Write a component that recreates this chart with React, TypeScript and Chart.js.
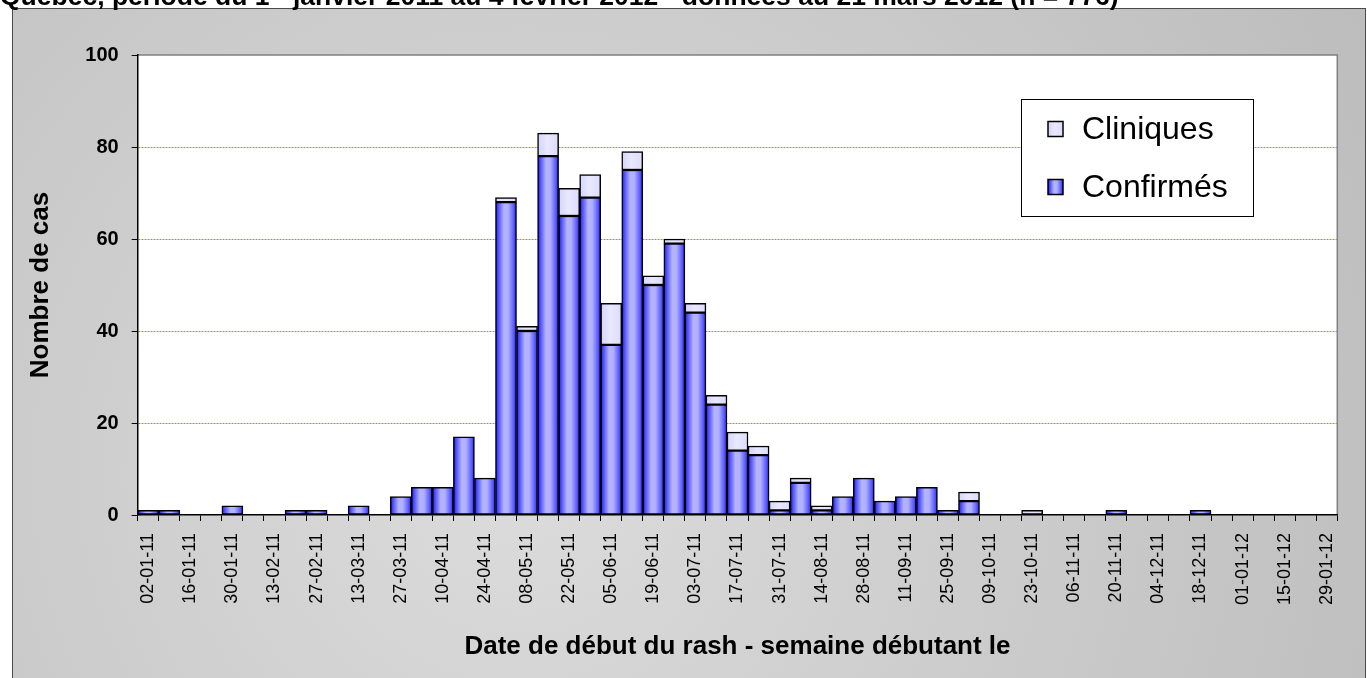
import React, { useEffect, useRef } from 'react';
import { Chart, registerables } from 'chart.js';

Chart.register(...registerables);

const WEEKS = [
  '02-01-11', '09-01-11', '16-01-11', '23-01-11', '30-01-11', '06-02-11', '13-02-11', '20-02-11',
  '27-02-11', '06-03-11', '13-03-11', '20-03-11', '27-03-11', '03-04-11', '10-04-11', '17-04-11',
  '24-04-11', '01-05-11', '08-05-11', '15-05-11', '22-05-11', '29-05-11', '05-06-11', '12-06-11',
  '19-06-11', '26-06-11', '03-07-11', '10-07-11', '17-07-11', '24-07-11', '31-07-11', '07-08-11',
  '14-08-11', '21-08-11', '28-08-11', '04-09-11', '11-09-11', '18-09-11', '25-09-11', '02-10-11',
  '09-10-11', '16-10-11', '23-10-11', '30-10-11', '06-11-11', '13-11-11', '20-11-11', '27-11-11',
  '04-12-11', '11-12-11', '18-12-11', '25-12-11', '01-01-12', '08-01-12', '15-01-12', '22-01-12',
  '29-01-12',
];

const CONFIRMES = [
  1, 1, 0, 0, 2, 0, 0, 1,
  1, 0, 2, 0, 4, 6, 6, 17,
  8, 68, 40, 78, 65, 69, 37, 75,
  50, 59, 44, 24, 14, 13, 1, 7,
  1, 4, 8, 3, 4, 6, 1, 3,
  0, 0, 0, 0, 0, 0, 1, 0,
  0, 0, 1, 0, 0, 0, 0, 0,
  0,
];

const CLINIQUES = [
  0, 0, 0, 0, 0, 0, 0, 0,
  0, 0, 0, 0, 0, 0, 0, 0,
  0, 1, 1, 5, 6, 5, 9, 4,
  2, 1, 2, 2, 4, 2, 2, 1,
  1, 0, 0, 0, 0, 0, 0, 2,
  0, 0, 1, 0, 0, 0, 0, 0,
  0, 0, 0, 0, 0, 0, 0, 0,
  0,
];

const Y_MIN = 0;
const Y_MAX = 100;
const Y_STEP = 20;

const SERIES_CONFIRMES = 'Confirmés';
const SERIES_CLINIQUES = 'Cliniques';
const Y_TITLE = 'Nombre de cas';
const X_TITLE = 'Date de début du rash - semaine débutant le';
const TITLE_START = 'Québec, période du 1';
const TITLE_SUP = 'er';
const TITLE_END = ' janvier 2011 au 4 février 2012 - données au 21 mars 2012 (n = 776)';

const FONT = "'Liberation Sans', Arial, Helvetica, sans-serif";
const W = 1367;
const H = 678;

function blueGradient(ctx: CanvasRenderingContext2D, x0: number, x1: number) {
  const g = ctx.createLinearGradient(x0, 0, x1, 0);
  g.addColorStop(0, '#1010ff');
  g.addColorStop(0.12, '#4a4aff');
  g.addColorStop(0.4, '#b4b4ff');
  g.addColorStop(0.6, '#b0b0ff');
  g.addColorStop(0.85, '#6060ff');
  g.addColorStop(1, '#2020ff');
  return g;
}

function lightGradient(ctx: CanvasRenderingContext2D, x0: number, x1: number) {
  const g = ctx.createLinearGradient(x0, 0, x1, 0);
  g.addColorStop(0, '#d4d4fa');
  g.addColorStop(0.45, '#e8e8ff');
  g.addColorStop(1, '#dcdcfc');
  return g;
}

function barFill(kind: 'blue' | 'light') {
  return (c: any) => {
    const chart = c.chart;
    const fallback = kind === 'blue' ? '#8080ff' : '#e0e0ff';
    if (!chart.chartArea || c.type !== 'data') return fallback;
    const xs = chart.scales.x;
    const cx = xs.getPixelForValue(c.dataIndex);
    const w = xs.width / WEEKS.length;
    return kind === 'blue'
      ? blueGradient(chart.ctx, cx - w / 2, cx + w / 2)
      : lightGradient(chart.ctx, cx - w / 2, cx + w / 2);
  };
}

const backgroundPlugin = {
  id: 'panelBackground',
  beforeDraw(chart: any) {
    const ctx = chart.ctx as CanvasRenderingContext2D;
    const a = chart.chartArea;
    ctx.save();
    ctx.fillStyle = '#ffffff';
    ctx.fillRect(0, 0, W, H);
    const rg = ctx.createRadialGradient(520, 470, 0, 520, 470, 950);
    rg.addColorStop(0, '#dcdcdc');
    rg.addColorStop(1, '#bdbdbd');
    ctx.fillStyle = rg;
    ctx.fillRect(12.5, 8.5, 1353, 700);
    ctx.strokeStyle = '#4a4a4a';
    ctx.lineWidth = 1;
    ctx.strokeRect(12.5, 8.5, 1353, 700);

    // title (partly clipped at top)
    ctx.fillStyle = '#000';
    ctx.textBaseline = 'alphabetic';
    ctx.textAlign = 'left';
    const big = `bold 26.5px ${FONT}`;
    ctx.font = big;
    let x = 0;
    const by = 5;
    ctx.fillText(TITLE_START, x, by);
    x += ctx.measureText(TITLE_START).width;
    ctx.font = `bold 17px ${FONT}`;
    ctx.fillText(TITLE_SUP, x, by - 10);
    x += ctx.measureText(TITLE_SUP).width;
    ctx.font = big;
    ctx.fillText(TITLE_END, x, by);

    // plot area
    ctx.fillStyle = '#ffffff';
    ctx.fillRect(a.left, a.top, a.right - a.left, a.bottom - a.top);
    ctx.strokeStyle = '#808080';
    ctx.lineWidth = 1.5;
    ctx.beginPath();
    ctx.moveTo(a.left, a.top);
    ctx.lineTo(a.right, a.top);
    ctx.lineTo(a.right, a.bottom);
    ctx.stroke();
    ctx.restore();
  },
  afterDraw(chart: any) {
    const ctx = chart.ctx as CanvasRenderingContext2D;
    ctx.save();
    const lx = 1021.5, ly = 99.5, lw = 232, lh = 117;
    ctx.fillStyle = '#ffffff';
    ctx.fillRect(lx, ly, lw, lh);
    ctx.strokeStyle = '#000';
    ctx.lineWidth = 1;
    ctx.strokeRect(lx, ly, lw, lh);
    const items = [
      { name: SERIES_CLINIQUES, y: 129, kind: 'light' },
      { name: SERIES_CONFIRMES, y: 187, kind: 'blue' },
    ];
    for (const it of items) {
      const sx = 1048, s = 15;
      ctx.fillStyle = it.kind === 'blue' ? blueGradient(ctx, sx, sx + s) : lightGradient(ctx, sx, sx + s);
      ctx.fillRect(sx, it.y - s / 2, s, s);
      ctx.strokeStyle = '#000';
      ctx.lineWidth = 1.5;
      ctx.strokeRect(sx, it.y - s / 2, s, s);
      ctx.fillStyle = '#000';
      ctx.font = `32px ${FONT}`;
      ctx.textBaseline = 'middle';
      ctx.textAlign = 'left';
      ctx.fillText(it.name, 1082, it.y + 1);
    }
    ctx.restore();
  },
};

function ChartCanvas() {
  const ref = useRef<HTMLCanvasElement | null>(null);
  useEffect(() => {
    if (!ref.current) return;
    const chart = new Chart(ref.current, {
      type: 'bar',
      data: {
        labels: WEEKS,
        datasets: [
          {
            label: SERIES_CONFIRMES,
            data: CONFIRMES.map((v) => (v ? v : null)),
            backgroundColor: barFill('blue'),
            borderColor: '#000',
            borderWidth: 1.5,
            borderSkipped: false,
            categoryPercentage: 1,
            barPercentage: 1,
          },
          {
            label: SERIES_CLINIQUES,
            data: CLINIQUES.map((v) => (v ? v : null)),
            backgroundColor: barFill('light'),
            borderColor: '#000',
            borderWidth: 1.5,
            borderSkipped: false,
            categoryPercentage: 1,
            barPercentage: 1,
          },
        ],
      },
      options: {
        responsive: false,
        animation: false,
        devicePixelRatio: 1,
        layout: { padding: { left: 0, right: W - 1337.3, top: 55, bottom: 0 } },
        plugins: {
          legend: { display: false },
          tooltip: { enabled: false },
          title: { display: false },
        },
        scales: {
          x: {
            stacked: true,
            offset: true,
            afterFit: (s: any) => {
              s.height = H - 515;
            },
            grid: {
              offset: true,
              drawOnChartArea: false,
              drawTicks: true,
              tickLength: 6,
              color: '#000',
              tickColor: '#000',
              lineWidth: 1,
            },
            border: { display: true, color: '#000', width: 1.5 },
            ticks: {
              autoSkip: false,
              maxRotation: 90,
              minRotation: 90,
              padding: 12,
              color: '#000',
              font: { family: FONT, size: 18 },
              callback: (_v: any, i: number) => (i % 2 === 0 ? WEEKS[i] : ''),
            },
            title: {
              display: true,
              text: X_TITLE,
              color: '#000',
              font: { family: FONT, size: 26, weight: 'bold' },
              padding: { top: 0, bottom: 16 },
            },
          },
          y: {
            stacked: true,
            min: Y_MIN,
            max: Y_MAX,
            afterFit: (s: any) => {
              s.width = 137.7;
            },
            grid: {
              drawTicks: true,
              tickLength: 6,
              tickColor: '#000',
              lineWidth: 1,
              color: (c: any) =>
                c.tick && (c.tick.value === Y_MIN || c.tick.value === Y_MAX) ? 'rgba(0,0,0,0)' : '#9c9c48',
            },
            border: { display: true, color: '#000', width: 1.5, dash: [2, 1] },
            ticks: {
              stepSize: Y_STEP,
              padding: 13,
              color: '#000',
              font: { family: FONT, size: 20, weight: 'bold' },
            },
            title: {
              display: true,
              text: Y_TITLE,
              color: '#000',
              font: { family: FONT, size: 26, weight: 'bold' },
              padding: { top: 25, bottom: 0 },
            },
          },
        },
      },
      plugins: [backgroundPlugin],
    } as any);
    return () => chart.destroy();
  }, []);
  return (
    <canvas
      ref={ref}
      width={W}
      height={H}
      style={{ position: 'absolute', left: 0, top: 0, width: W, height: H, display: 'block' }}
    />
  );
}

export default function App() {
  return <ChartCanvas />;
}
